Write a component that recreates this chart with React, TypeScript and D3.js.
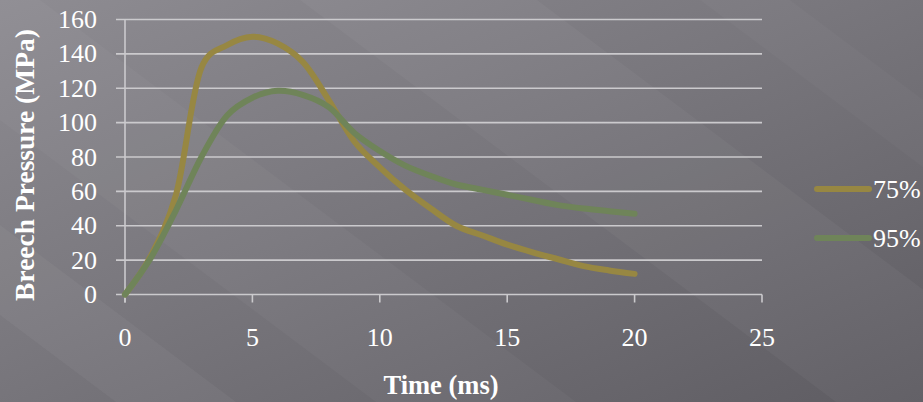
import * as d3 from 'd3';
import React from 'react';

// time in ms
const times = [0, 1, 2, 3, 4, 5, 6, 7, 8, 9, 10, 11, 12, 13, 14, 15, 16, 17, 18, 19, 20];
// breech pressure (MPa)
const p75 = [0, 22, 58, 132, 145, 150, 146, 135, 113, 89, 74, 61, 50, 40, 34.5, 29, 24.5, 20.5, 16.5, 14, 12];
const p95 = [0, 21, 49, 80, 104, 114.5, 118.5, 116, 109, 94, 83.5, 75, 69, 64, 61, 58, 55, 52, 50, 48.5, 47];

const seriesNames = ['75%', '95%'];
const seriesColors = ['#978742', '#6f8459'];
const xTicks = [0, 5, 10, 15, 20, 25];
const yTicks = [0, 20, 40, 60, 80, 100, 120, 140, 160];

const W = 923;
const H = 402;
const font = '"Liberation Serif", "Times New Roman", serif';

function App() {
  const x = d3.scaleLinear().domain([0, 25]).range([125, 762]);
  const y = d3.scaleLinear().domain([0, 160]).range([294.5, 19.5]);

  const line = d3.line<number>()
    .x((d, i) => x(times[i]))
    .y((d) => y(d))
    .curve(d3.curveCatmullRom.alpha(0.2));

  const series = [p75, p95];

  // light diagonal bands on the background (slope ~0.75)
  const run = H / 0.75;
  const band = (c1: number, c2: number) =>
    `M${c1},0 L${c2},0 L${c2 + run},${H} L${c1 + run},${H} Z`;

  return (
    <svg width={W} height={H} style={{ position: 'absolute', left: 0, top: 0 }}>
      <defs>
        <linearGradient id="bg" x1="0" y1="0" x2="1" y2="1">
          <stop offset="0" stopColor="#8e8c92" />
          <stop offset="0.45" stopColor="#79777d" />
          <stop offset="1" stopColor="#5e5c62" />
        </linearGradient>
      </defs>
      <rect width={W} height={H} fill="url(#bg)" />
      <g fill="#fff">
        <path d={band(-420, -300)} opacity={0.04} />
        <path d={band(-160, 40)} opacity={0.03} />
        <path d={band(300, 537)} opacity={0.035} />
        <path d={band(700, 790)} opacity={0.025} />
      </g>

      {/* gridlines */}
      <g stroke="#cbcacd" strokeWidth={1.6}>
        {yTicks.map((t) => (
          <line key={t} x1={116} x2={762} y1={y(t)} y2={y(t)} />
        ))}
        <line x1={x(0)} x2={x(0)} y1={y(160)} y2={y(0) + 8} />
        {xTicks.map((t) => (
          <line key={'xt' + t} x1={x(t)} x2={x(t)} y1={y(0)} y2={y(0) + 8} />
        ))}
      </g>

      {/* tick labels */}
      <g fill="#fff" fontFamily={font} fontSize={26}>
        {yTicks.map((t) => (
          <text key={t} x={97} y={y(t)} dy="0.33em" textAnchor="end">{t}</text>
        ))}
        {xTicks.map((t) => (
          <text key={'xl' + t} x={x(t)} y={346} textAnchor="middle">{t}</text>
        ))}
      </g>

      {/* series */}
      {series.map((s, i) => (
        <path key={i} d={line(s) || ''} fill="none" stroke={seriesColors[i]}
          strokeWidth={6} strokeLinecap="round" strokeLinejoin="round" />
      ))}

      {/* axis titles */}
      <text x={441} y={394} textAnchor="middle" fill="#fff" fontFamily={font}
        fontSize={26.5} fontWeight="bold">Time (ms)</text>
      <text transform="translate(34,165) rotate(-90)" textAnchor="middle" fill="#fff"
        fontFamily={font} fontSize={27.5} fontWeight="bold">Breech Pressure (MPa)</text>

      {/* legend */}
      {seriesNames.map((n, i) => (
        <g key={n} transform={`translate(0,${189 + i * 49})`}>
          <line x1={817} x2={869} y1={0} y2={0} stroke={seriesColors[i]} strokeWidth={6} strokeLinecap="round" />
          <text x={873} y={0} dy="0.33em" fill="#fff" fontFamily={font} fontSize={26}>{n}</text>
        </g>
      ))}
    </svg>
  );
}

export default App;
